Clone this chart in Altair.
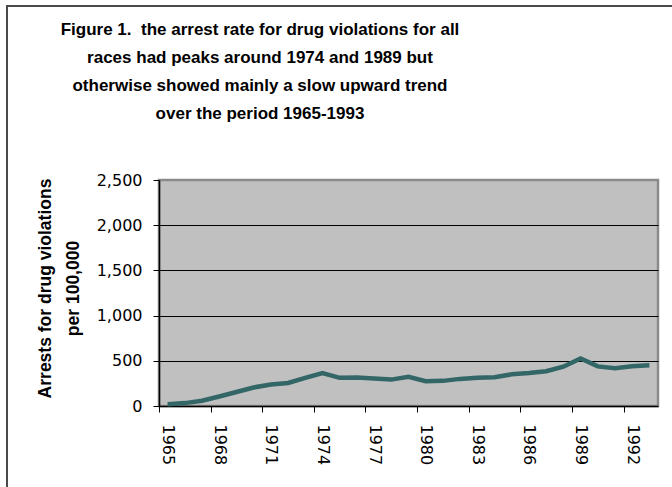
import altair as alt
import pandas as pd

# Drug-violation arrest rate, all races, per 100,000 population
years = list(range(1965, 1994))
rates = [
    20, 32, 58, 105, 155, 205, 238, 255, 312, 365,
    312, 315, 305, 292, 322, 275, 278, 300, 312, 318,
    350, 365, 385, 435, 525, 438, 418, 440, 450,
]

y_ticks = [0, 500, 1000, 1500, 2000, 2500]
x_label_years = [1965, 1968, 1971, 1974, 1977, 1980, 1983, 1986, 1989, 1992]

title_lines = [
    "Figure 1.\u00a0 the arrest rate for drug violations for all",
    "races had peaks around 1974 and 1989 but",
    "otherwise showed mainly a slow upward trend",
    "over the period 1965-1993",
]
y_title = ["Arrests for drug violations", "per 100,000"]

df = pd.DataFrame({"year": years, "rate": rates})
one_row = pd.DataFrame({"k": [0]})

PLOT_W = 499
PLOT_H = 226
HALF_CAT = PLOT_W / len(years) / 2

bold_font = "Liberation Sans Narrow, Liberation Sans, Arial, sans-serif"
label_font = "DejaVu Sans"

line = alt.Chart(df).mark_line(color="#336666", strokeWidth=4.5).encode(
    x=alt.X(
        "year:Q",
        scale=alt.Scale(domain=[1964.5, 1993.5], nice=False, zero=False),
        axis=alt.Axis(
            values=x_label_years,
            title=None,
            labelAngle=90,
            labelFont=label_font,
            labelFontSize=16,
            labelColor="black",
            labelPadding=12,
            labelExpr="datum.value",
            tickOffset=-HALF_CAT,
            labelOffset=HALF_CAT,
            tickColor="black",
            tickSize=6,
            domainColor="black",
            domainWidth=1.5,
            grid=False,
            labelFlush=False,
            labelOverlap=False,
        ),
    ),
    y=alt.Y(
        "rate:Q",
        scale=alt.Scale(domain=[0, 2500], nice=False),
        axis=alt.Axis(
            values=y_ticks,
            format=",d",
            title=y_title,
            titleFont=bold_font,
            titleFontSize=17.5,
            titleFontWeight="bold",
            titleColor="black",
            titleAngle=-90,
            titleAlign="center",
            titleBaseline="middle",
            titleLineHeight=28,
            titleX=-114,
            titleY=108,
            labelFont=label_font,
            labelFontSize=16,
            labelColor="black",
            labelPadding=11,
            tickColor="black",
            tickSize=6,
            domainColor="black",
            domainWidth=1.5,
            grid=True,
            gridColor={
                "condition": {"test": "datum.value === 2500 || datum.value === 0",
                              "value": "transparent"},
                "value": "black",
            },
            gridWidth=1.2,
        ),
    ),
)

# Chart heading, centred over the left part of the chart area
heading = alt.Chart(one_row).mark_text(
    text=title_lines,
    font=bold_font,
    fontSize=17,
    fontWeight="bold",
    color="black",
    align="center",
    baseline="top",
    lineHeight=28,
).encode(x=alt.value(101), y=alt.value(-158))

# Outer frame of the chart area (left and top edges)
frame_left = alt.Chart(one_row).mark_rule(color="#4a4a4a", strokeWidth=2).encode(
    x=alt.value(-152), y=alt.value(-174), y2=alt.value(400)
)
frame_top = alt.Chart(one_row).mark_rule(color="#4a4a4a", strokeWidth=2).encode(
    x=alt.value(-153), x2=alt.value(600), y=alt.value(-174)
)

chart = (
    alt.layer(frame_left, frame_top, heading, line)
    .properties(
        width=PLOT_W,
        height=PLOT_H,
        padding={"left": 159, "top": 180, "right": 14, "bottom": 81},
        autosize=alt.AutoSizeParams(type="none"),
        background="white",
    )
    .configure_view(fill="#c0c0c0", stroke="#8a8a8a", strokeWidth=2.5)
)

chart.save("out.html", embed_options={"renderer": "svg", "actions": False})
